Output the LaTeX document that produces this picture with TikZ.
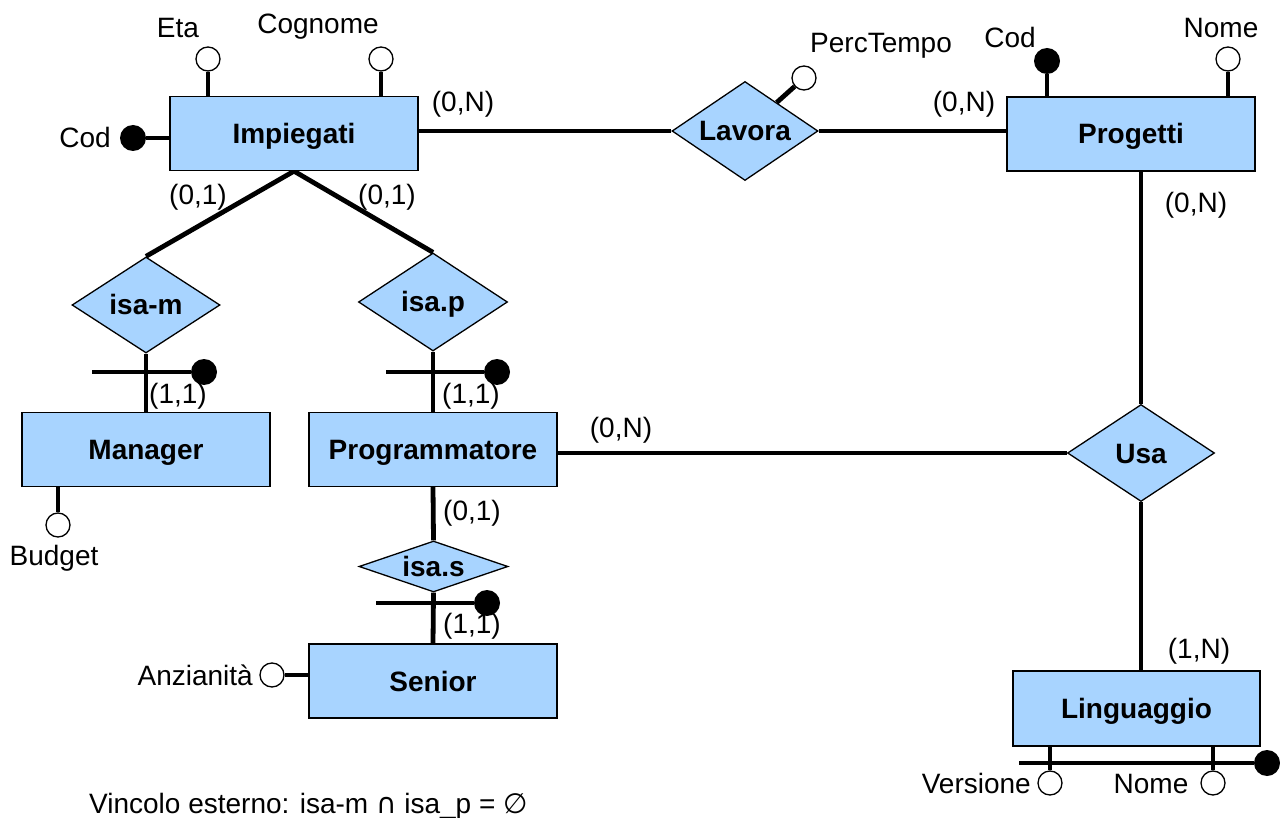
\documentclass[tikz,border=0pt]{standalone}
\usepackage{fontspec}
\setmainfont{Liberation Sans}
\newfontfamily\symfont{DejaVu Sans}
\usetikzlibrary{shapes.geometric,backgrounds}
\definecolor{erfill}{HTML}{A8D4FF}
\begin{document}
\begin{tikzpicture}[x=1pt,y=-1pt,
  every node/.style={font=\fontsize{28}{33}\selectfont, inner sep=0pt,
    text height=20pt, text depth=0pt},
  entity/.style={rectangle, draw=black, line width=1.3pt, fill=erfill,
    minimum width=248pt, minimum height=74pt,
    font=\fontsize{28}{33}\selectfont\bfseries},
  rel/.style={diamond, aspect=2.5, draw=black, line width=1.3pt, fill=erfill,
    font=\fontsize{28}{33}\selectfont\bfseries},
  attr/.style={circle, draw=black, line width=1.3pt, fill=white, minimum size=24pt},
  keyattr/.style={circle, fill=black, minimum size=26pt},
  link/.style={line width=4.8pt}]

% entities
\node[entity] (imp)  at (294,133.5) {Impiegati};
\node[entity] (prog) at (1131,134) {Progetti};
\node[entity] (man)  at (146,449.5) {Manager};
\node[entity] (pro)  at (433,449.5) {Programmatore};
\node[entity] (sen)  at (433,681) {Senior};
\node[entity, minimum width=247pt, minimum height=75pt] (ling) at (1136.5,708.5) {Linguaggio};

% relationships
\node[rel, minimum width=146pt, minimum height=99pt] (lav)  at (745,131) {Lavora};
\node[rel, minimum width=147pt, minimum height=97pt] (usa)  at (1141,453) {Usa};
\node[rel, minimum width=148pt, minimum height=96pt] (isam) at (146,305) {isa-m};
\node[rel, minimum width=149pt, minimum height=98pt] (isap) at (433,302) {isa.p};
\node[rel, minimum width=149pt, minimum height=51pt] (isas) at (433.5,566.5) {isa.s};

% attributes
\node[keyattr] (impcod) at (133,138) {};
\node[attr] (eta) at (208,59) {};
\node[attr] (cogn) at (381,59) {};
\node[attr] (perc) at (804,78) {};
\node[keyattr] (progcod) at (1047,61) {};
\node[attr] (prognome) at (1228,59) {};
\node[attr] (bud) at (58,525) {};
\node[attr] (anz) at (272,675) {};
\node[attr] (vers) at (1050,783) {};
\node[attr] (lingnome) at (1213,783) {};

% identifiers of the subclasses and of Linguaggio
\node[keyattr] (isamkey) at (204,372) {};
\node[keyattr] (isapkey) at (497,372) {};
\node[keyattr] (isaskey) at (487,603) {};
\node[keyattr] (lingkey) at (1267,763) {};
\coordinate (isambar) at (92,372);
\coordinate (isapbar) at (386,372);
\coordinate (isasbar) at (376,603);
\coordinate (lingbar) at (1019,763);

% attribute names
\node (impcodL) at (85,138) {Cod};
\node (etaL) at (178,28) {Eta};
\node (cognL) at (318,24) {Cognome};
\node (percL) at (881,43) {PercTempo};
\node (progcodL) at (1010,38) {Cod};
\node (prognomeL) at (1221,28) {Nome};
\node (budL) at (54,555) {Budget};
\node[anchor=east] (anzL) at (253,675) {Anzianità};
\node[anchor=east] (versL) at (1031,783) {Versione};
\node (lingnomeL) at (1151,783) {Nome};

% cardinalities
\node (c1) at (463,102) {(0,N)};
\node (c2) at (964,102) {(0,N)};
\node (c3) at (198,195) {(0,1)};
\node (c4) at (387,195) {(0,1)};
\node[anchor=west] (c5) at (149,393) {(1,1)};
\node[anchor=west] (c6) at (442,393) {(1,1)};
\node (c7) at (621,427) {(0,N)};
\node (c8) at (1196,203) {(0,N)};
\node[anchor=west] (c9) at (443,510) {(0,1)};
\node[anchor=west] (c10) at (443,623) {(1,1)};
\node (c11) at (1199,648) {(1,N)};

% external constraint
\node[anchor=west] (vinc) at (89,803) {Vincolo esterno: isa-m {\symfont ∩} isa\_p = {\symfont ∅}};

\begin{scope}[on background layer]
  \fill[white] (0,0) rectangle (1280,818);
  % relationship links
  \draw[link] (lav.west) -- (lav.west -| imp.east);
  \draw[link] (lav.east) -- (lav.east -| prog.west);
  \draw[link] (usa.north) -- (usa.north |- prog.south);
  \draw[link] (usa.south) -- (usa.south |- ling.north);
  \draw[link] (usa.west) -- (usa.west -| pro.east);
  \draw[link] (imp.south) -- (isam.north);
  \draw[link] (imp.south) -- (isap.north);
  \draw[link] (isam.south) -- (man.north);
  \draw[link] (isap.south) -- (pro.north);
  \draw[link] (pro.south) -- (isas.north);
  \draw[link] (isas.south) -- (sen.north);
  % identifier bars
  \draw[link] (isambar) -- (isamkey);
  \draw[link] (isapbar) -- (isapkey);
  \draw[link] (isasbar) -- (isaskey);
  \draw[link] (lingbar) -- (lingkey);
  % attribute stems
  \draw[link] (impcod) -- (impcod -| imp.west);
  \draw[link] (eta) -- (eta |- imp.north);
  \draw[link] (cogn) -- (cogn |- imp.north);
  \draw[link] (perc) -- (lav);
  \draw[link] (progcod) -- (progcod |- prog.north);
  \draw[link] (prognome) -- (prognome |- prog.north);
  \draw[link] (bud) -- (bud |- man.south);
  \draw[link] (anz) -- (anz -| sen.west);
  \draw[link] (vers) -- (vers |- ling.south);
  \draw[link] (lingnome) -- (lingnome |- ling.south);
\end{scope}
\end{tikzpicture}
\end{document}
